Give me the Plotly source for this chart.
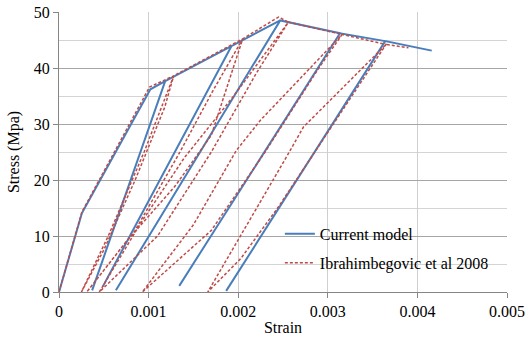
import plotly.graph_objects as go

# Current model (blue, solid): envelope with linear unloading/reloading branches
blue_strain = [0, 0.000256, 0.00102, 0.001185, 0.00037, 0.001185, 0.001924, 0.00049, 0.001924,
               0.002469, 0.000635, 0.002469, 0.003136, 0.001342, 0.003136, 0.003641, 0.001866,
               0.003641, 0.00416]
blue_stress = [0, 14.1, 36.2, 37.65, 0.3, 37.65, 43.9, 1.0, 43.9,
               48.5, 0.3, 48.5, 46.2, 1.1, 46.2, 44.8, 0.2,
               44.8, 43.1]

# Ibrahimbegovic et al 2008 (red, dashed): envelope with hysteresis loops
red_strain = [0, 0.000256, 0.00101, 0.00128,
              0.00118, 0.00085, 0.0005, 0.00025,
              0.00055, 0.00095, 0.00128,
              0.00205,
              0.00172, 0.00135, 0.00085, 0.00031,
              0.00075, 0.0013, 0.0017, 0.00205,
              0.00245, 0.00256,
              0.0022, 0.0017, 0.0011, 0.00045,
              0.0009, 0.0014, 0.00195, 0.00256,
              0.00316,
              0.0029, 0.0023, 0.0017, 0.00093,
              0.0015, 0.00198, 0.00225, 0.00316,
              0.00365,
              0.00298, 0.00244, 0.00203, 0.00166,
              0.00252, 0.00273, 0.00365,
              0.0039]
red_stress = [0, 14.3, 36.6, 38.6,
              33, 20, 7.5, 0,
              10, 25, 38.6,
              45.2,
              36, 25, 11, 0,
              9, 19, 28, 45.2,
              49.1, 48.2,
              39, 25, 10, 0,
              12, 24, 35, 48.2,
              46.0,
              40, 25, 11, 0,
              12, 25.3, 30.7, 46.0,
              44.2,
              28, 15, 6, 0,
              23.6, 29.5, 44.2,
              43.6]

x_tickvals = [0, 0.001, 0.002, 0.003, 0.004, 0.005]
x_ticktext = ["0", "0.001", "0.002", "0.003", "0.004", "0.005"]
y_tickvals = [0, 10, 20, 30, 40, 50]

FONT = "Liberation Serif, Times New Roman, serif"
FS = 16

fig = go.Figure()
fig.add_trace(go.Scatter(x=blue_strain, y=blue_stress, mode="lines", name="Current model",
                         legendgroup="a",
                         line=dict(color="#4A7EBB", width=2)))
fig.add_trace(go.Scatter(x=red_strain, y=red_stress, mode="lines", name="Ibrahimbegovic et al 2008",
                         legendgroup="b",
                         line=dict(color="#BE4B48", width=1.5, dash="3px,2px")))

fig.update_layout(
    width=527, height=343,
    margin=dict(l=59, r=20, t=12, b=51),
    paper_bgcolor="white", plot_bgcolor="white",
    font=dict(family=FONT, size=FS, color="black"),
    showlegend=True,
    legend=dict(x=0.493, y=0.268, xanchor="left", yanchor="top",
                bgcolor="rgba(0,0,0,0)", font=dict(family=FONT, size=FS, color="black"),
                tracegroupgap=5, itemwidth=30),
    xaxis=dict(range=[0, 0.005], tickvals=x_tickvals, ticktext=x_ticktext,
               showgrid=True, gridcolor="#cfcfcf", gridwidth=1,
               showline=True, linecolor="#868686", linewidth=1,
               ticks="outside", ticklen=5, tickcolor="#868686",
               ticklabeloverflow="allow",
               zeroline=False, automargin=False,
               title=dict(text="Strain", font=dict(family=FONT, size=FS), standoff=2)),
    yaxis=dict(range=[0, 50], tickvals=y_tickvals,
               showgrid=True, gridcolor="#a6a6a6", gridwidth=1,
               minor=dict(dtick=5, showgrid=True, gridcolor="#d4d4d4", gridwidth=1),
               showline=True, linecolor="#868686", linewidth=1,
               ticks="outside", ticklen=5, tickcolor="#868686",
               ticklabeloverflow="allow",
               zeroline=False, automargin=False,
               title=dict(text="Stress (Mpa)", font=dict(family=FONT, size=FS), standoff=10)),
)

fig.write_html("out.html",
               config={"displayModeBar": False},
               post_script="document.body.style.margin='0';document.body.style.overflow='hidden';")
